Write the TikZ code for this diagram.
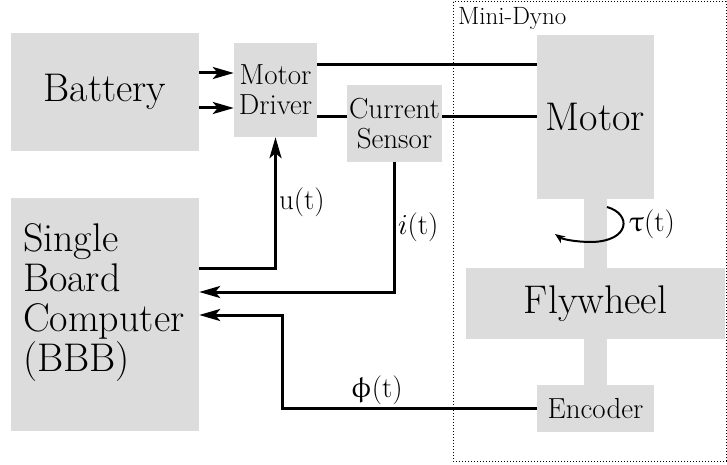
\RequirePackage{fix-cm}
\documentclass[tikz,border=0pt]{standalone}
\usepackage{upgreek}
\usetikzlibrary{arrows.meta,calc}

\definecolor{boxgray}{RGB}{220,220,220}

\begin{document}
\begin{tikzpicture}[
    x=1pt, y=-1pt,
    box/.style={fill=boxgray, inner sep=0pt, align=center},
    bigtxt/.style={font=\fontsize{40}{40}\selectfont},
    smalltxt/.style={font=\fontsize{29}{30}\selectfont},
    sig/.style={line width=3pt},
    sigarrow/.style={line width=3pt, -{Stealth[length=21pt, width=12pt, inset=5pt]}},
    lbl/.style={font=\fontsize{29}{30}\selectfont, inner sep=2pt},
    torque/.style={line width=2pt, -{Stealth[length=10pt, width=8pt, inset=3pt]}}
  ]
\useasboundingbox (0,0) rectangle (727,465);

% ============================================================
% Mini-Dyno enclosure
% ============================================================
\draw[dotted, line width=1pt] (453,2) rectangle (726,461);
\node[font=\fontsize{25}{25}\selectfont, anchor=base west, inner sep=0pt]
  (dyno) at (458,25) {Mini-Dyno};

% shaft behind motor, flywheel and encoder
\fill[boxgray] (584,199) rectangle (607,385);

% ============================================================
% Blocks
% ============================================================
\node[box, bigtxt, minimum width=188, minimum height=118] (bat) at (105,92) {Battery};
\node[box, smalltxt, minimum width=83, minimum height=94] (mdrv) at (275.5,90) {Motor\\Driver};
\node[box, smalltxt, minimum width=95, minimum height=77] (csens) at (394.5,123.5) {Current\\Sensor};
\node[box, bigtxt, minimum width=117, minimum height=164] (motor) at (595.5,117) {Motor};
\node[box, bigtxt, minimum width=259, minimum height=71] (fly) at (595.5,303.5) {Flywheel};
\node[box, smalltxt, minimum width=117, minimum height=47] (enc) at (595.5,408.5) {Encoder};

\node[box, minimum width=188, minimum height=233] (sbc) at (105,314.5) {};
\node[bigtxt, align=left, anchor=west, inner sep=0pt]
  (sbctext) at ($(sbc.west)+(12,-12)$) {Single\\Board\\Computer\\(BBB)};

% ============================================================
% Power path
% ============================================================
\draw[sigarrow] (bat.east |- 0,73) -- (mdrv.west |- 0,73);
\draw[sigarrow] (bat.east |- 0,108) -- (mdrv.west |- 0,108);

\draw[sig] (mdrv.east |- 0,65) -- (motor.west |- 0,65);
\draw[sig] (mdrv.east |- 0,117) -- (csens.west |- 0,117);
\draw[sig] (csens.east |- 0,117) -- (motor.west |- 0,117);

% ============================================================
% Signals to and from the computer
% ============================================================
\draw[sigarrow] (sbc.east |- 0,268) -| (mdrv.south)
  node[lbl, pos=0.75, anchor=west] {$\mathrm{u}(\mathrm{t})$};

\draw[sigarrow] (csens.south) |- (sbc.east |- 0,292)
  node[lbl, pos=0.25, anchor=west] {$i(\mathrm{t})$};

\draw[sigarrow] (enc.west) -- ++(-254,0)
  node[lbl, pos=0.63, anchor=south] {$\upphi(\mathrm{t})$}
  |- (sbc.east |- 0,315);

% torque on the shaft
\draw[torque] (607,207) .. controls (632,214) and (630,241) .. (592,242)
  .. controls (575,242) and (562,239) .. (555,234);
\node[lbl, anchor=west] (tau) at (627,224) {$\uptau(\mathrm{t})$};

\end{tikzpicture}
\end{document}
